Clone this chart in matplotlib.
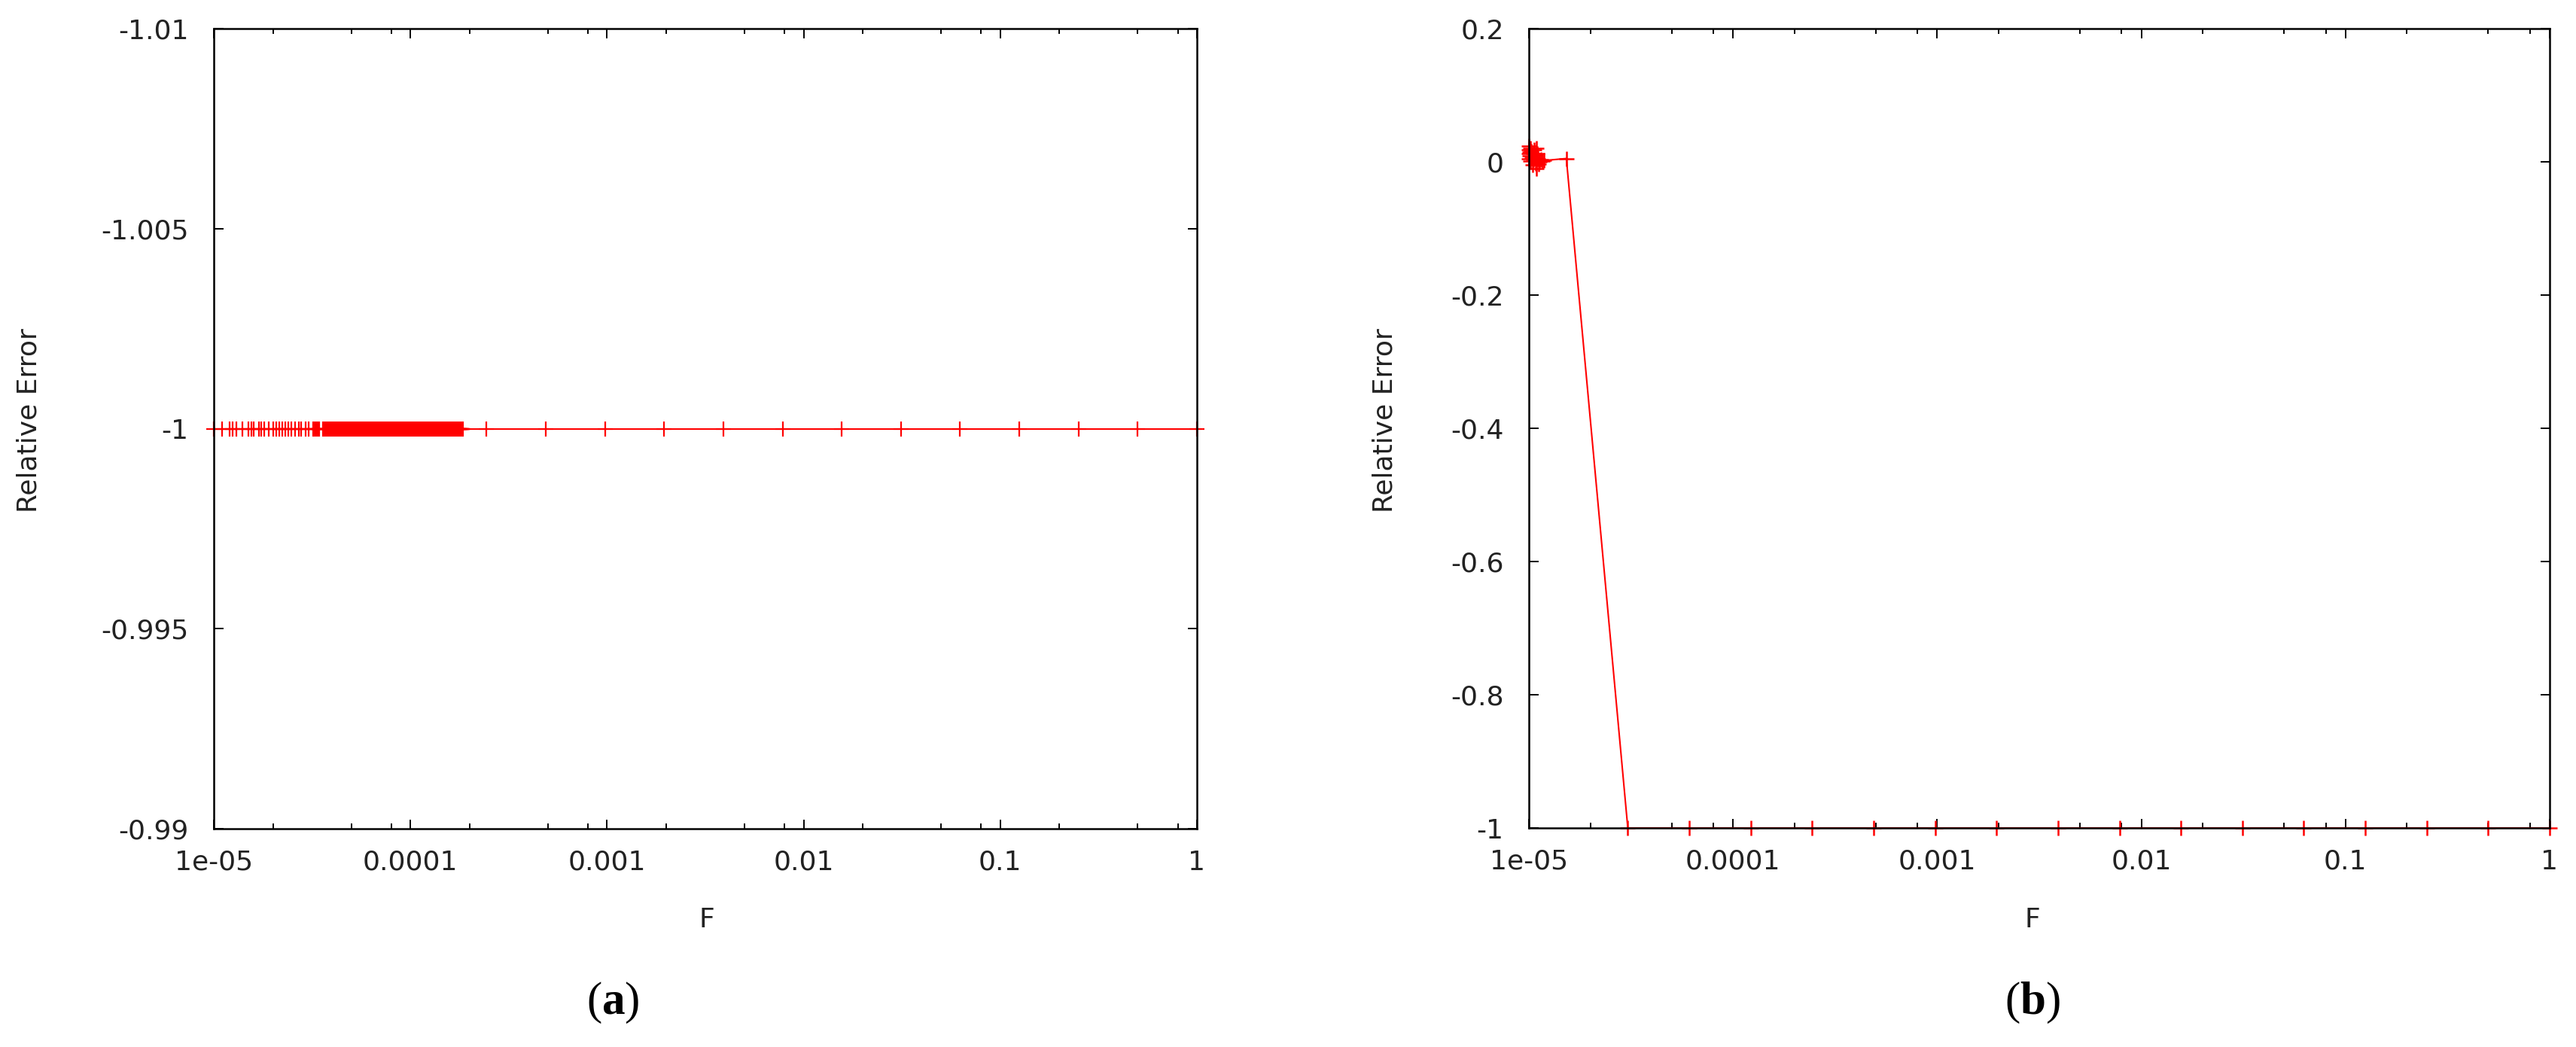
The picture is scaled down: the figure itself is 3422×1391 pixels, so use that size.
import matplotlib
matplotlib.use("Agg")
import matplotlib.pyplot as plt
from matplotlib.ticker import FixedLocator, LogLocator, FormatStrFormatter, NullFormatter

plt.rcParams['font.family'] = 'DejaVu Sans'
plt.rcParams['mathtext.fontset'] = 'custom'
plt.rcParams['mathtext.rm'] = 'Liberation Serif'
plt.rcParams['mathtext.bf'] = 'Liberation Serif:bold'

# ---- panel (a): every point sits at relative error -1 ----
# sparse points just above 1e-5 (units of 1e-5)
f_a_sparse = [1.0, 1.1, 1.2, 1.25, 1.3, 1.4, 1.5, 1.55, 1.6, 1.7, 1.75, 1.8, 1.9,
              2.0, 2.08, 2.15, 2.23, 2.31, 2.39, 2.47, 2.6, 2.7, 2.78, 2.92, 3.04,
              3.2, 3.25, 3.3, 3.35, 3.4, 3.45]
# dense block up to ~1.85e-4 (units of 1e-6)
f_a_dense = [36, 36.5, 37, 37.5, 38, 38.5, 39, 39.5, 40, 40.5, 41, 41.5, 42, 42.5,
             43, 43.5, 44, 44.5, 45, 45.5, 46, 46.5, 47, 47.5, 48, 48.5, 49, 49.5,
             50, 50.5, 51, 51.5, 52, 52.5, 53, 53.5, 54, 54.5, 55, 55.5, 56, 56.5,
             57, 57.5, 58, 58.5, 59, 59.5, 60,
             61, 62, 63, 64, 65, 66, 67, 68, 69, 70, 71, 72, 73, 74, 75, 76, 77, 78,
             79, 80, 81, 82, 83, 84, 85, 86, 87, 88, 89, 90, 91, 92, 93, 94, 95, 96,
             97, 98, 99, 100, 101, 102, 103, 104, 105, 106, 107, 108, 109, 110, 111,
             112, 113, 114, 115, 116, 117, 118, 119, 120, 121, 122, 123, 124, 125,
             126, 127, 128, 129, 130, 131, 132, 133, 134, 135, 136, 137, 138, 139,
             140, 141, 142, 143, 144, 145, 146, 147, 148, 149, 150, 151, 152, 153,
             154, 155, 156, 157, 158, 159, 160, 161, 162, 163, 164, 165, 166, 167,
             168, 169, 170, 171, 172, 173, 174, 175, 176, 177, 178, 179, 180, 181,
             182, 183, 184, 185]
# powers of two from 2^-12 to 1
f_a_pow2 = [0.000244140625, 0.00048828125, 0.0009765625, 0.001953125, 0.00390625,
            0.0078125, 0.015625, 0.03125, 0.0625, 0.125, 0.25, 0.5, 1.0]

f_a = [v * 1e-5 for v in f_a_sparse] + [v * 1e-6 for v in f_a_dense] + f_a_pow2
err_a = [-1.0] * len(f_a)

# ---- panel (b) ----
f_b = [1.000e-5, 1.000e-5, 1.000e-5, 1.000e-5, 1.005e-5, 1.01e-5, 1.015e-5, 1.02e-5,
       1.03e-5, 1.035e-5, 1.04e-5, 1.05e-5, 1.055e-5, 1.06e-5, 1.07e-5, 1.075e-5,
       1.08e-5, 1.09e-5, 1.09e-5, 1.095e-5, 1.10e-5, 1.11e-5, 1.12e-5, 1.13e-5,
       1.15e-5, 1.17e-5, 1.19e-5, 1.52587890625e-05,
       3.0517578125e-05, 6.103515625e-05, 0.0001220703125, 0.000244140625,
       0.00048828125, 0.0009765625, 0.001953125, 0.00390625, 0.0078125,
       0.015625, 0.03125, 0.0625, 0.125, 0.25, 0.5, 1.0]
err_b = [0.024, 0.018, 0.012, 0.004, 0.015, 0.009, 0.020, 0.001,
         0.016, 0.007, -0.004, 0.012, 0.003, 0.018, 0.010, -0.002,
         0.006, 0.020, -0.010, 0.004, 0.012, 0.005, -0.003, 0.000,
         0.003, 0.001, 0.002, 0.005,
         -1, -1, -1, -1, -1, -1, -1, -1, -1, -1, -1, -1, -1, -1, -1, -1]

x_ticks = [1e-5, 1e-4, 1e-3, 1e-2, 1e-1, 1]
y_ticks_a = [-1.01, -1.005, -1.0, -0.995, -0.99]
y_ticks_b = [0.2, 0.0, -0.2, -0.4, -0.6, -0.8, -1.0]

W, H = 3423, 1391
fig = plt.figure(figsize=(W / 100, H / 100), dpi=100)
ax_a = fig.add_axes([284 / W, 1 - 1101 / H, (1590 - 284) / W, (1101 - 38) / H])
ax_b = fig.add_axes([2031 / W, 1 - 1100 / H, (3387 - 2031) / W, (1100 - 38) / H])


def style(ax, yticks):
    ax.set_xscale('log')
    ax.set_xlim(1e-5, 1)
    ax.xaxis.set_major_locator(FixedLocator(x_ticks))
    ax.xaxis.set_minor_locator(LogLocator(base=10, subs=[2, 5, 8]))
    ax.xaxis.set_minor_formatter(NullFormatter())
    ax.xaxis.set_major_formatter(FormatStrFormatter('%g'))
    ax.yaxis.set_major_locator(FixedLocator(yticks))
    ax.yaxis.set_major_formatter(FormatStrFormatter('%g'))
    ax.tick_params(which='both', direction='in', top=True, right=True,
                   labelsize=26, width=1.4, color='black', labelcolor='#222222')
    ax.tick_params(which='major', length=9)
    ax.tick_params(which='minor', length=5)
    ax.tick_params(axis='x', pad=20)
    ax.tick_params(axis='y', pad=24)
    for s in ax.spines.values():
        s.set_linewidth(1.8)


ax_a.plot(f_a, err_a, color='red', lw=1.5, marker='+', ms=14, mew=1.6, clip_on=False)
style(ax_a, y_ticks_a)
ax_a.set_ylim(-0.99, -1.01)

ax_b.plot(f_b, err_b, color='red', lw=1.5, marker='+', ms=15, mew=1.8, clip_on=False)
style(ax_b, y_ticks_b)
ax_b.set_ylim(-1.0, 0.2)

for xc in (39, 1840):
    fig.text(xc / W, 1 - 559 / H, 'Relative Error', rotation=90, ha='center',
             va='center', fontsize=26, color='#222222')
for xc in (939, 2700):
    fig.text(xc / W, 1 - 1222 / H, 'F', ha='center', va='center', fontsize=26,
             color='#222222')
fig.text(814 / W, 1 - 1332 / H, r'$(\mathbf{a})$', ha='center', va='center', fontsize=44)
fig.text(2700 / W, 1 - 1332 / H, r'$(\mathbf{b})$', ha='center', va='center', fontsize=44)

fig.savefig('out.png', dpi=100, facecolor='white')
